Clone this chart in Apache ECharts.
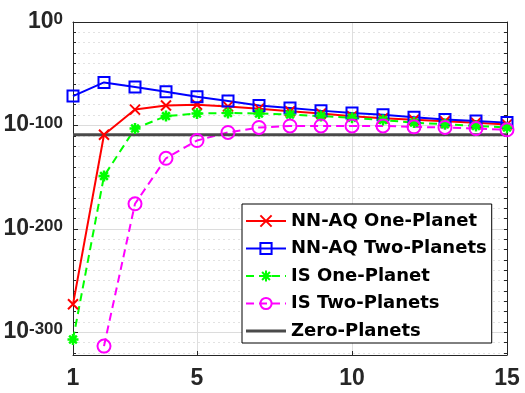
<!DOCTYPE html>
<html>
<head>
<meta charset="utf-8">
<script src="https://cdn.jsdelivr.net/npm/echarts@6/dist/echarts.min.js"></script>
<style>
html, body { margin: 0; padding: 0; background: #fff; }
#chart { width: 525px; height: 393px; }
</style>
</head>
<body>
<div id="chart"></div>
<script>
// values are log10 of the plotted quantity (axis labelled 10^n)
var xValues = [1, 2, 3, 4, 5, 6, 7, 8, 9, 10, 11, 12, 13, 14, 15];
var nnaqOne = [-273, -109, -84.7, -80.7, -80, -81.6, -83.8, -86.3, -88.5, -91.2, -93, -94.5, -96, -97.5, -99];
var nnaqTwo = [-71.6, -58.4, -62.8, -67.5, -72.2, -76.3, -80.7, -83.2, -85.7, -87.9, -89.8, -92, -94.2, -95.8, -97.3];
var isOne = [-307, -149, -103, -91, -88.5, -88, -88.5, -89.5, -91, -92.6, -94.8, -97.3, -98.9, -100.5, -102];
var isTwo = [null, -313.4, -175.8, -131.8, -114.6, -106.8, -102, -100.5, -100.5, -100.5, -100.5, -101.4, -102, -103, -104.2];
var zeroPlanets = -109;

var xTicks = [1, 5, 10, 15];
var yMajorTicks = [-300, -200, -100, 0];
var yMinorTicks = [];
for (var t = -320; t <= 0; t += 10) yMinorTicks.push(t);

var names = ["NN-AQ One-Planet", "NN-AQ Two-Planets", "IS One-Planet", "IS Two-Planets", "Zero-Planets"];

function pairs(arr) {
    var out = [];
    for (var i = 0; i < xValues.length; i++) {
        if (arr[i] != null) out.push([xValues[i], arr[i]]);
    }
    return out;
}

var CROSS = "path://M0,0L10,10M10,0L0,10";
var STAR = "path://M5,0L5,10M0,5L10,5M1.5,1.5L8.5,8.5M8.5,1.5L1.5,8.5";
var TICK_FONT = "'Liberation Sans', Arial, sans-serif";

var legendData = [];
for (var k = 0; k < names.length; k++) {
    if (k == 4) legendData.push({ name: names[k], icon: "path://M0,0L40,0L40,3L0,3Z" });
    else legendData.push({ name: names[k] });
}

var chart = echarts.init(document.getElementById("chart"));
chart.setOption({
    animation: false,
    backgroundColor: "#fff",
    grid: { left: 73, right: 18, top: 13, bottom: 38, containLabel: false },
    legend: {
        orient: "vertical",
        left: 242,
        top: 204,
        padding: [8, 5, 3, 3],
        itemGap: 9.5,
        itemWidth: 40,
        itemHeight: 14,
        backgroundColor: "#fff",
        borderColor: "#000",
        borderWidth: 1,
        borderRadius: 0,
        textStyle: { fontFamily: "'DejaVu Sans', sans-serif", fontWeight: "bold", fontSize: 18, color: "#000" },
        data: legendData
    },
    xAxis: [{
        type: "value", min: 1, max: 15, position: "bottom",
        axisLine: { show: true, onZero: false, lineStyle: { color: "#262626", width: 1 } },
        axisTick: { show: true, inside: true, length: 4, customValues: xTicks, lineStyle: { color: "#262626" } },
        axisLabel: { customValues: xTicks, margin: 12, color: "#262626", fontFamily: TICK_FONT, fontWeight: "bold", fontSize: 23 },
        splitLine: { show: true, lineStyle: { color: "#dedede", width: 1 } }
    }, {
        type: "value", min: 1, max: 15, position: "top",
        axisLine: { show: true, onZero: false, lineStyle: { color: "#262626", width: 1 } },
        axisTick: { show: false }, axisLabel: { show: false }, splitLine: { show: false }
    }],
    yAxis: [{
        type: "value", min: -322, max: 0, position: "left",
        axisLine: { show: true, onZero: false, lineStyle: { color: "#262626", width: 1 } },
        axisTick: { show: true, inside: true, length: 3, customValues: yMinorTicks, lineStyle: { color: "#262626" } },
        axisLabel: { show: false },
        splitLine: { show: true, lineStyle: { color: "#e2e2e2", width: 1, type: [2, 3] } }
    }, {
        type: "value", min: -322, max: 0, position: "left",
        axisLine: { show: false },
        axisTick: { show: true, inside: true, length: 5, customValues: yMajorTicks, lineStyle: { color: "#262626" } },
        axisLabel: {
            customValues: yMajorTicks,
            margin: 10,
            color: "#262626",
            formatter: function (v) { return "{b|10}{s|" + v + "}"; },
            rich: {
                b: { fontFamily: TICK_FONT, fontWeight: "bold", fontSize: 23, lineHeight: 22, padding: [10, 0, 0, 0], verticalAlign: "bottom", color: "#262626" },
                s: { fontFamily: TICK_FONT, fontWeight: "bold", fontSize: 17, lineHeight: 17, verticalAlign: "top", color: "#262626" }
            }
        },
        splitLine: { show: true, lineStyle: { color: "#dcdcdc", width: 1 } }
    }, {
        type: "value", min: -322, max: 0, position: "right",
        axisLine: { show: true, onZero: false, lineStyle: { color: "#262626", width: 1 } },
        axisTick: { show: true, inside: true, length: 3, customValues: yMinorTicks, lineStyle: { color: "#262626" } },
        axisLabel: { show: false }, splitLine: { show: false }
    }],
    series: [{
        name: names[0], type: "line", data: pairs(nnaqOne),
        symbol: CROSS, symbolSize: 10, symbolKeepAspect: true,
        lineStyle: { color: "#ff0000", width: 2 },
        itemStyle: { color: "#ff0000", borderColor: "#ff0000", borderWidth: 2 }
    }, {
        name: names[1], type: "line", data: pairs(nnaqTwo),
        symbol: "rect", symbolSize: 11,
        lineStyle: { color: "#0000ff", width: 2 },
        itemStyle: { color: "rgba(0,0,0,0)", borderColor: "#0000ff", borderWidth: 2 }
    }, {
        name: names[2], type: "line", data: pairs(isOne),
        symbol: STAR, symbolSize: 11, symbolKeepAspect: true,
        lineStyle: { color: "#00ff00", width: 2, type: [8, 5] },
        itemStyle: { color: "#00ff00", borderColor: "#00ff00", borderWidth: 2.5 }
    }, {
        name: names[3], type: "line", data: pairs(isTwo),
        symbol: "circle", symbolSize: 13,
        lineStyle: { color: "#ff00ff", width: 2, type: [8, 5] },
        itemStyle: { color: "rgba(0,0,0,0)", borderColor: "#ff00ff", borderWidth: 2 }
    }, {
        name: names[4], type: "line", data: [[1, zeroPlanets], [15, zeroPlanets]],
        symbol: "none",
        lineStyle: { color: "#4a4a4a", width: 3 },
        itemStyle: { color: "#4a4a4a" }
    }]
});
</script>
</body>
</html>
